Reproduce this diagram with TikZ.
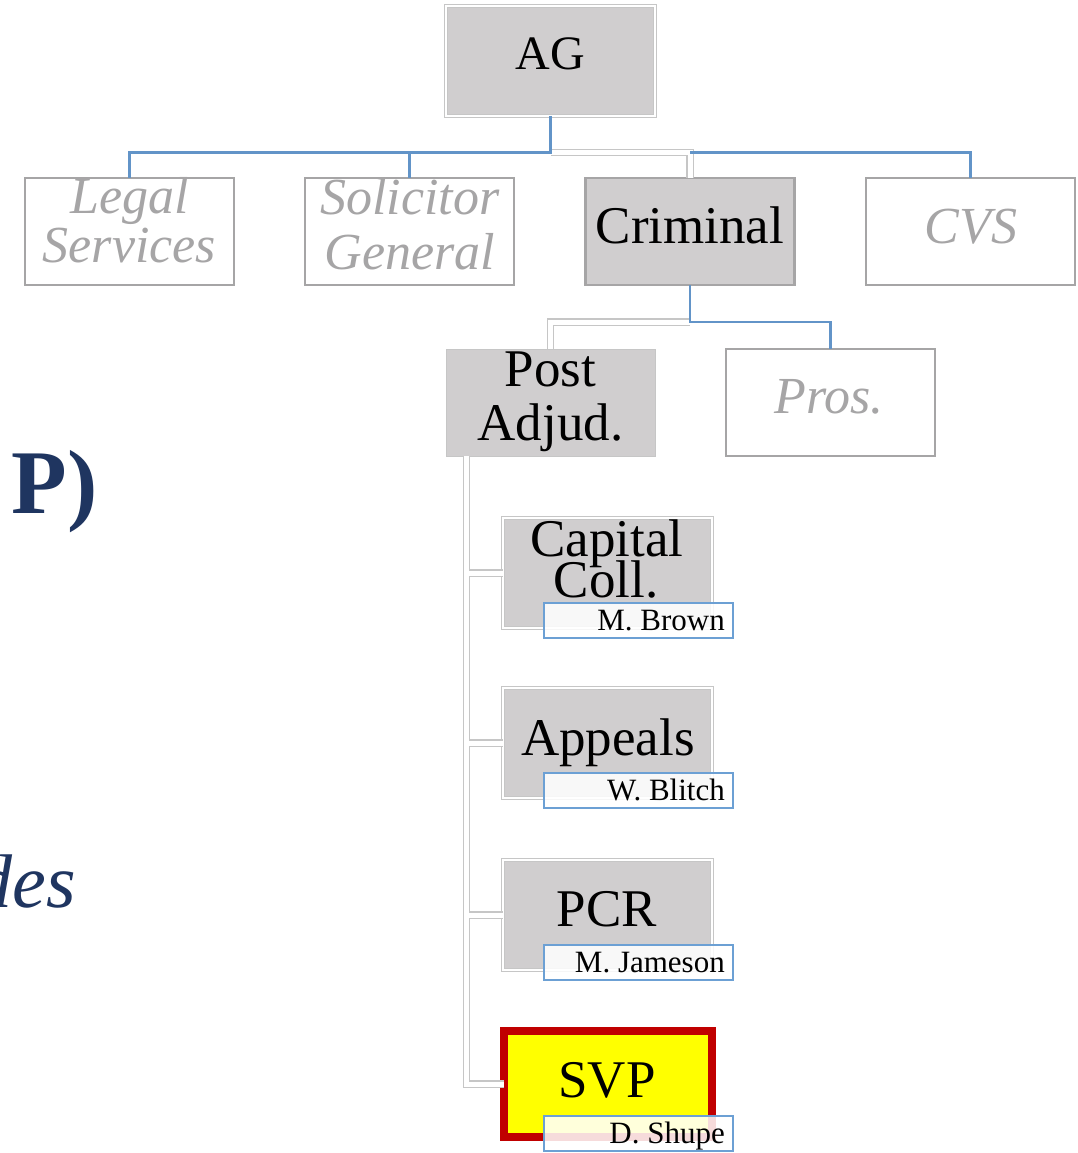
\documentclass[tikz,border=0pt]{standalone}
\usepackage{fontspec}
\setmainfont{Liberation Serif}

\definecolor{boxgray}{RGB}{208,206,207}
\definecolor{rulegray}{RGB}{166,165,166}
\definecolor{palegray}{RGB}{198,198,198}
\definecolor{linkblue}{RGB}{98,148,200}
\definecolor{tagblue}{RGB}{108,160,212}
\definecolor{titlenavy}{RGB}{31,53,96}
\definecolor{svpred}{RGB}{192,0,0}
\definecolor{svpyellow}{RGB}{255,255,0}

\begin{document}
\begin{tikzpicture}[x=1pt,y=-1pt,
  unitbox/.style={inner sep=0, outer sep=0, minimum width=209, minimum height=107},
  graybox/.style={unitbox, fill=boxgray, draw=palegray, line width=0.9, double=white, double distance=2},
  plainbox/.style={unitbox, fill=boxgray, draw=palegray, line width=1},
  activebox/.style={unitbox, fill=boxgray, draw=rulegray, line width=2.5},
  dimbox/.style={unitbox, fill=white, draw=rulegray, line width=2.5},
  svpbox/.style={unitbox, minimum width=208, minimum height=106, fill=svpyellow, draw=svpred, line width=8},
  tagbox/.style={inner sep=0, outer sep=0, minimum width=189, minimum height=35, fill=white, fill opacity=0.86, draw=tagblue, draw opacity=1, line width=2},
  maintext/.style={anchor=base, inner sep=0, font=\fontsize{53}{53}\selectfont},
  dimtext/.style={anchor=base, inner sep=0, text=rulegray, font=\fontsize{52}{52}\selectfont\itshape},
  tagtext/.style={anchor=base east, inner sep=0, font=\fontsize{31}{31}\selectfont},
  bluelink/.style={draw=linkblue, line width=2.4},
  paleline/.style={draw=palegray, line width=1.1, double=white, double distance=5},
]
\useasboundingbox (0,0) rectangle (1077,1153);
\clip (0,0) rectangle (1077,1153);

% headings running in from the left edge
\node[anchor=base east, inner sep=0, text=titlenavy, font=\fontsize{91}{91}\selectfont\bfseries] (headP) at (98,513) {P)};
\node[anchor=base east, inner sep=0, text=titlenavy, font=\fontsize{76}{76}\selectfont\itshape] (headdes) at (76,907) {des};

% top level
\node[graybox, minimum height=110] (ag) at (550.5,61) {};
\node[maintext, font=\fontsize{48}{48}\selectfont] (agT) at (550.5,70) {AG};

% second level
\node[dimbox] (legal) at (129.5,231.5) {};
\node[dimtext] (legalA) at (129.5,213) {Legal};
\node[dimtext] (legalB) at (129.5,262) {Services};

\node[dimbox] (sol) at (409.5,231.5) {};
\node[dimtext] (solA) at (410,214) {Solicitor};
\node[dimtext] (solB) at (410,269) {General};

\node[activebox] (crim) at (690,231.5) {};
\node[maintext] (crimT) at (690,243) {Criminal};

\node[dimbox] (cvs) at (970.5,231.5) {};
\node[dimtext] (cvsT) at (971,243) {CVS};

% third level
\node[plainbox] (post) at (550.5,402.5) {};
\node[maintext] (postA) at (550.5,386) {Post};
\node[maintext] (postB) at (550.5,440) {Adjud.};

\node[dimbox] (pros) at (830.5,402.5) {};
\node[dimtext] (prosT) at (829,413) {Pros.};

% units under Post Adjudication
\node[graybox, minimum height=110] (cap) at (607.5,573) {};
\node[maintext] (capA) at (607,556) {Capital};
\node[maintext] (capB) at (606,597) {Coll.};

\node[graybox, minimum height=110] (app) at (607.5,743) {};
\node[maintext] (appT) at (608,755) {Appeals};

\node[graybox, minimum height=110] (pcr) at (607.5,915) {};
\node[maintext] (pcrT) at (607,926) {PCR};

\node[svpbox] (svp) at (608,1084) {};
\node[maintext] (svpT) at (607,1097) {SVP};

% name tags
\node[tagbox] (capTag) at (638.5,620.5) {};
\node[tagtext] (capName) at (725,630) {M. Brown};
\node[tagbox] (appTag) at (638.5,790.5) {};
\node[tagtext] (appName) at (725,800) {W. Blitch};
\node[tagbox] (pcrTag) at (638.5,962) {};
\node[tagtext] (pcrName) at (725,972) {M. Jameson};
\node[tagbox] (svpTag) at (638.5,1133) {};
\node[tagtext] (svpName) at (725,1143) {D. Shupe};

% connector junctions
\coordinate (agBus) at (550.5,152.5);
\coordinate (crimBus) at (690,152.5);
\coordinate (crimDrop) at (690,322);
\coordinate (postStem) at (466.5,456);

% connectors
\draw[paleline] (agBus) -- (crimBus) -- (crim.north);
\draw[bluelink] (ag.south) -- (agBus) -| (legal.north);
\draw[bluelink] (agBus) -| (sol.north);
\draw[bluelink] (crimBus) -| (cvs.north);
\draw[paleline] (crimDrop) -| (post.north);
\draw[bluelink] (crim.south) -- (crimDrop) -| (pros.north);
\draw[paleline] (postStem) |- (cap.west)
                (postStem) |- (app.west)
                (postStem) |- (pcr.west)
                (postStem) |- (svp.west);
\end{tikzpicture}
\end{document}
